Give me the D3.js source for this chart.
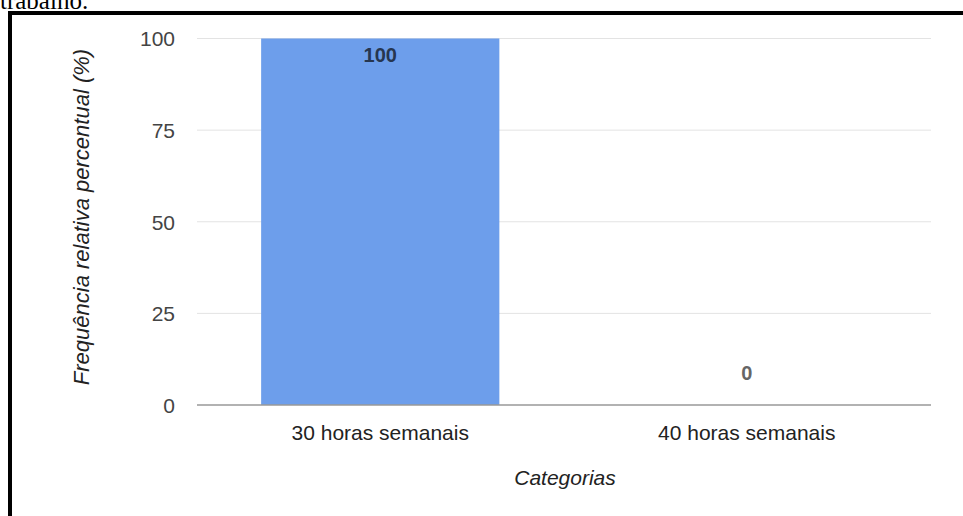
<!DOCTYPE html>
<html><head><meta charset="utf-8">
<script src="https://cdn.jsdelivr.net/npm/d3@7"></script>
<style>
html,body{margin:0;padding:0;background:#fff;overflow:hidden;}
svg{display:block;}
</style></head>
<body>
<script>
const categories = ["30 horas semanais", "40 horas semanais"];
const values = [100, 0];
const yTicks = [0, 25, 50, 75, 100];
const yTitle = "Frequência relativa percentual (%)";
const xTitle = "Categorias";
const caption = "trabalho.";

const W = 963, H = 516;
const svg = d3.select("body").append("svg").attr("width", W).attr("height", H);

svg.append("text").attr("x", 0).attr("y", 9)
  .attr("font-family", "Liberation Serif, Times New Roman, serif").attr("font-size", 25)
  .attr("fill", "#000").text(caption);

// frame
svg.append("rect").attr("x", 10).attr("y", 13).attr("width", 1000).attr("height", 600)
  .attr("fill", "#fff").attr("stroke", "#000").attr("stroke-width", 4);

const x = d3.scaleBand().domain(categories).range([197, 930]).paddingInner(0.35).paddingOuter(0.175);
const y = d3.scaleLinear().domain([0, 100]).range([405, 38.5]);

const font = "Liberation Sans, Arial, sans-serif";

// gridlines
svg.append("g").selectAll("line").data(yTicks.filter(d => d !== 0)).join("line")
  .attr("x1", 197).attr("x2", 931).attr("y1", d => y(d)).attr("y2", d => y(d))
  .attr("stroke", "#e3e3e3").attr("stroke-width", 1);

// y tick labels
const yAxis = d3.axisLeft(y).tickValues(yTicks).tickSize(0).tickPadding(0);
const gy = svg.append("g").attr("transform", "translate(175,0)").call(yAxis);
gy.select(".domain").remove();
gy.selectAll("text").attr("dy", "0.35em").attr("font-family", font).attr("font-size", 21).attr("fill", "#444");

// bars
svg.append("g").selectAll("rect").data(values).join("rect")
  .attr("x", (d, i) => x(categories[i])).attr("width", x.bandwidth())
  .attr("y", d => y(d)).attr("height", d => y(0) - y(d))
  .attr("fill", "#6d9eeb");

// baseline
svg.append("line").attr("x1", 197).attr("x2", 931).attr("y1", y(0)).attr("y2", y(0))
  .attr("stroke", "#999").attr("stroke-width", 1.5);

// value labels
svg.append("g").selectAll("text").data(values).join("text")
  .attr("x", (d, i) => x(categories[i]) + x.bandwidth() / 2)
  .attr("y", d => d > 0 ? y(d) + 23.5 : y(d) - 25)
  .attr("text-anchor", "middle").attr("font-family", font).attr("font-size", 20)
  .attr("font-weight", "bold").attr("fill", d => d > 0 ? "#263650" : "#666").text(d => d);

// x axis labels
const xAxis = d3.axisBottom(x).tickSize(0).tickPadding(0);
const gx = svg.append("g").attr("transform", "translate(0,440)").call(xAxis);
gx.select(".domain").remove();
gx.selectAll("text").attr("dy", 0).attr("font-family", font).attr("font-size", 21).attr("fill", "#222");

// axis titles
svg.append("text").attr("x", 565).attr("y", 485).attr("text-anchor", "middle")
  .attr("font-family", font).attr("font-size", 21).attr("font-style", "italic").attr("fill", "#222").text(xTitle);
svg.append("text").attr("transform", "translate(89,217) rotate(-90)").attr("text-anchor", "middle")
  .attr("font-family", font).attr("font-size", 22).attr("font-style", "italic").attr("fill", "#222").text(yTitle);
</script>
</body></html>
